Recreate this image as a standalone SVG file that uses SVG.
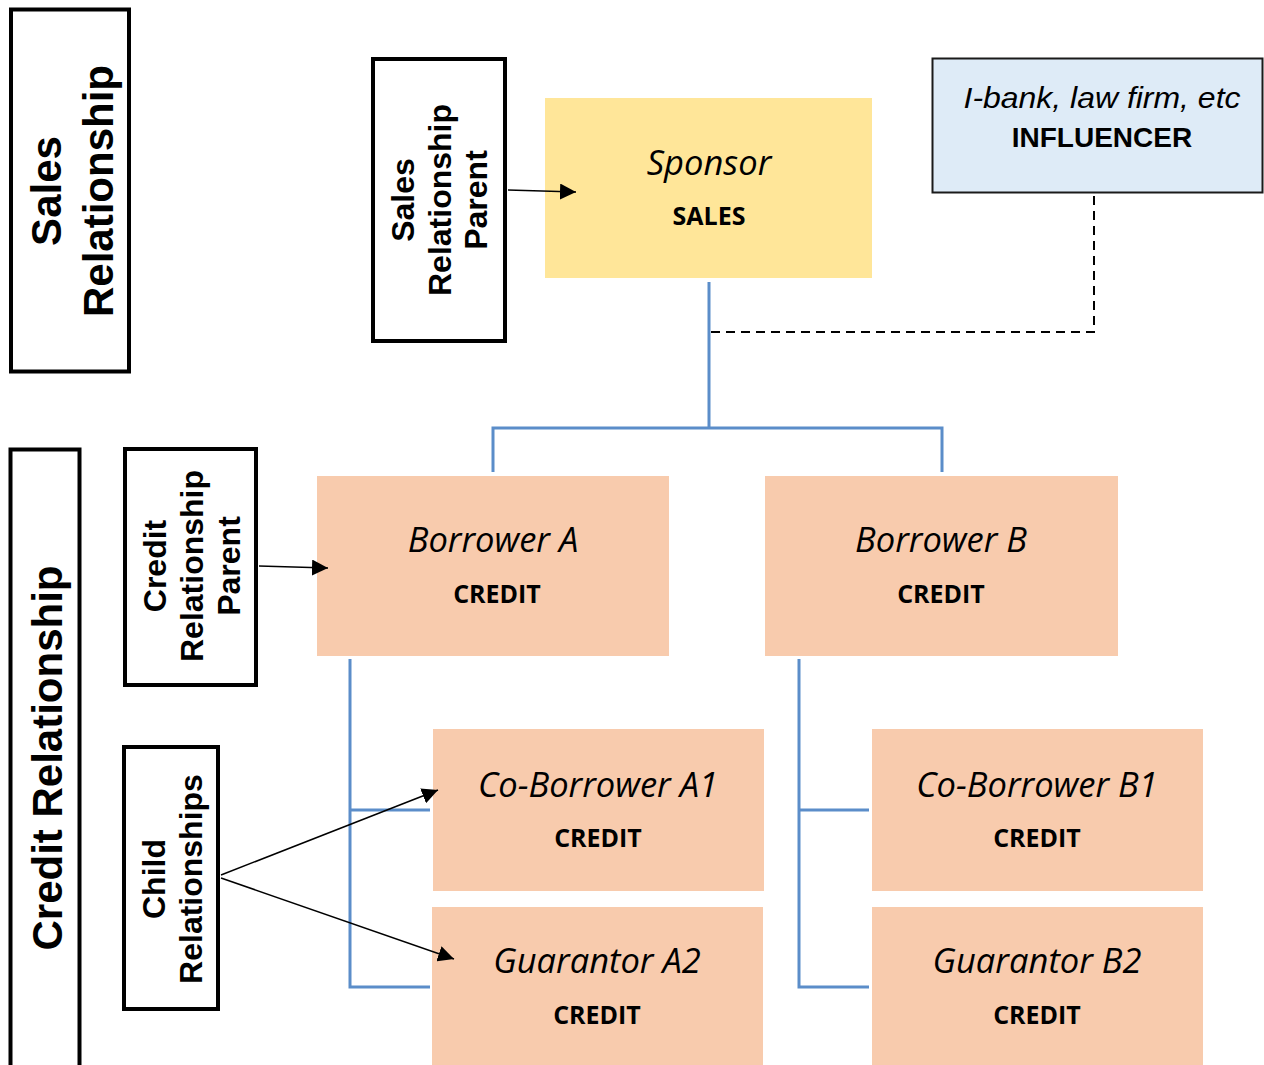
<svg xmlns="http://www.w3.org/2000/svg" width="1264" height="1065" viewBox="0 0 1264 1065">
<style>
.lbl{fill:none;stroke:#000;stroke-width:4}
.lt{font-family:"Liberation Sans",Arial,sans-serif;font-weight:bold;fill:#000;text-anchor:middle}
.it{font-family:"Liberation Sans",Arial,sans-serif;font-style:italic;fill:#000;text-anchor:middle}
.nm{font-family:"Open Sans","Noto Sans",sans-serif;font-style:italic;font-size:34.5px;fill:#000;text-anchor:middle}
.kd{font-family:"Open Sans","Noto Sans",sans-serif;font-weight:bold;font-size:25px;fill:#000;text-anchor:middle}
.peach{fill:#F8CBAD}
.tree{fill:none;stroke:#5B8DC9;stroke-width:3}
.arr{stroke:#000;stroke-width:1.5;fill:none;marker-end:url(#ah)}
.dash{fill:none;stroke:#000;stroke-width:2;stroke-dasharray:9 6}
</style>
<defs>
<marker id="ah" markerUnits="userSpaceOnUse" markerWidth="16" markerHeight="16" refX="16" refY="8" orient="auto">
<path d="M0,0 L16,8 L0,16 z" fill="#000"/>
</marker>
</defs>
<rect width="1264" height="1065" fill="#fff"/>

<g id="sales-relationship">
<rect class="lbl" x="11" y="9.5" width="118" height="362"/>
<text class="lt" font-size="42" transform="translate(61,191) rotate(-90)">Sales</text>
<text class="lt" font-size="42" transform="translate(113,191) rotate(-90)">Relationship</text>
</g>

<g id="credit-relationship">
<rect class="lbl" x="10.5" y="449.5" width="69" height="640"/>
<text class="lt" font-size="42" transform="translate(62,758) rotate(-90)">Credit Relationship</text>
</g>

<g id="sales-relationship-parent">
<rect class="lbl" x="373" y="59" width="132" height="282"/>
<text class="lt" font-size="32" transform="translate(414,200) rotate(-90)">Sales</text>
<text class="lt" font-size="32" transform="translate(450.5,200) rotate(-90)">Relationship</text>
<text class="lt" font-size="32" transform="translate(487,200) rotate(-90)">Parent</text>
</g>

<g id="credit-relationship-parent">
<rect class="lbl" x="125" y="449" width="131" height="236"/>
<text class="lt" font-size="32" transform="translate(166,566) rotate(-90)">Credit</text>
<text class="lt" font-size="32" transform="translate(203,566) rotate(-90)">Relationship</text>
<text class="lt" font-size="32" transform="translate(240,566) rotate(-90)">Parent</text>
</g>

<g id="child-relationships">
<rect class="lbl" x="124" y="747" width="94" height="262"/>
<text class="lt" font-size="32" transform="translate(165,879) rotate(-90)">Child</text>
<text class="lt" font-size="32" transform="translate(202,879) rotate(-90)">Relationships</text>
</g>

<g id="sponsor">
<rect x="545" y="98" width="327" height="180" fill="#FFE699"/>
<text class="nm" x="709" y="175">Sponsor</text>
<text class="kd" x="709" y="225">SALES</text>
</g>

<g id="influencer">
<rect x="932.5" y="58.5" width="330" height="134" fill="#DEEBF7" stroke="#1a1a1a" stroke-width="2"/>
<text class="it" font-size="30" x="1102" y="108" textLength="277" lengthAdjust="spacingAndGlyphs">I-bank, law firm, etc</text>
<text class="lt" font-size="28" x="1102" y="147">INFLUENCER</text>
</g>

<g id="borrower-a">
<rect class="peach" x="317" y="476" width="352" height="180"/>
<text class="nm" x="493" y="552">Borrower A</text>
<text class="kd" x="497" y="603">CREDIT</text>
</g>

<g id="borrower-b">
<rect class="peach" x="765" y="476" width="353" height="180"/>
<text class="nm" x="941" y="552">Borrower B</text>
<text class="kd" x="941" y="603">CREDIT</text>
</g>

<g id="co-borrower-a1">
<rect class="peach" x="433" y="729" width="331" height="162"/>
<text class="nm" x="598" y="797">Co-Borrower A1</text>
<text class="kd" x="598" y="847">CREDIT</text>
</g>

<g id="guarantor-a2">
<rect class="peach" x="432" y="907" width="331" height="160"/>
<text class="nm" x="597" y="973">Guarantor A2</text>
<text class="kd" x="597" y="1024">CREDIT</text>
</g>

<g id="co-borrower-b1">
<rect class="peach" x="872" y="729" width="331" height="162"/>
<text class="nm" x="1037" y="797">Co-Borrower B1</text>
<text class="kd" x="1037" y="847">CREDIT</text>
</g>

<g id="guarantor-b2">
<rect class="peach" x="872" y="907" width="331" height="160"/>
<text class="nm" x="1037" y="973">Guarantor B2</text>
<text class="kd" x="1037" y="1024">CREDIT</text>
</g>

<g id="connectors">
<path class="tree" d="M709,282 V428 M493,472 V428 H942 V472"/>
<path class="tree" d="M350,659 V987 H430 M350,810 H430"/>
<path class="tree" d="M799,659 V987 H869 M799,810 H869"/>
<path class="dash" d="M1094,196 V332 H705"/>
<path class="arr" d="M508,190 L576,192"/>
<path class="arr" d="M259,566 L328,568"/>
<path class="arr" d="M221,875 L438,790"/>
<path class="arr" d="M221,878 L454,959"/>
</g>
</svg>
